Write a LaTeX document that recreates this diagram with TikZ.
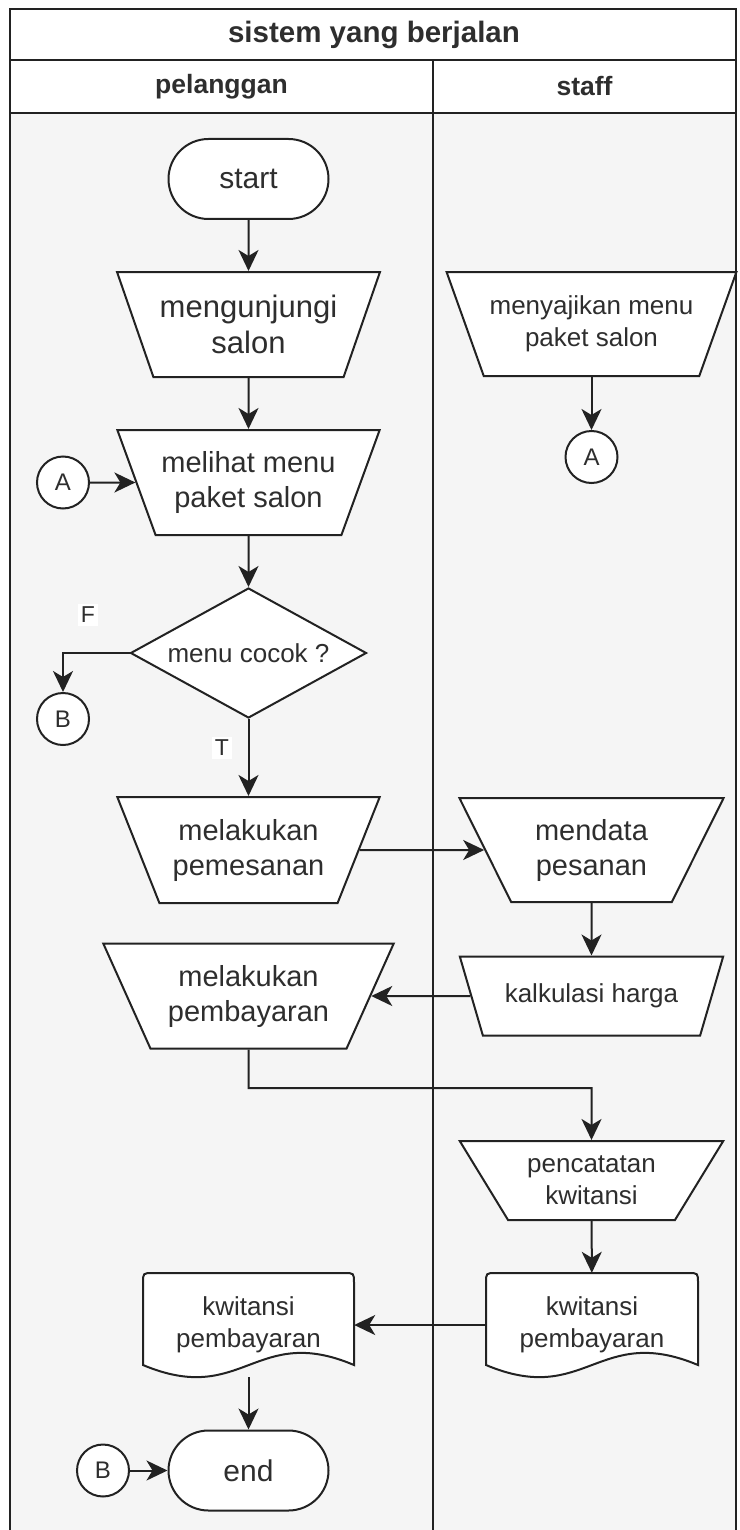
\documentclass[tikz,border=0pt]{standalone}
\usepackage{fontspec}
\setmainfont{Liberation Sans}
\usetikzlibrary{shapes.geometric,arrows.meta,calc}
\definecolor{lanebg}{HTML}{F5F5F5}
\definecolor{ink}{HTML}{222222}
\definecolor{txt}{HTML}{2E2E2E}
\begin{document}
\begin{tikzpicture}[x=1pt,y=-1pt,
  every node/.style={text=txt, inner sep=0pt},
  frame/.style={draw=ink, line width=2pt},
  shp/.style={draw=ink, fill=white, line width=2pt, align=center},
  manop/.style={shp, trapezium, trapezium stretches=true,
    trapezium left angle=#1, trapezium right angle=#1},
  term/.style={shp, rectangle, rounded corners=40pt, minimum width=160pt,
    minimum height=80pt, font=\fontsize{30}{36}\selectfont},
  conn/.style={shp, circle, minimum size=52pt, font=\fontsize{24}{28}\selectfont},
  decis/.style={shp, diamond, aspect=1.815, minimum width=236pt, minimum height=130pt},
  docn/.style={align=center, minimum width=212pt, minimum height=104pt},
  docline/.style={draw=ink, fill=white, line width=2pt},
  bigtext/.style={font=\fontsize{29}{35}\selectfont},
  midtext/.style={font=\fontsize{26}{32}\selectfont},
  lbl/.style={fill=white, inner sep=3pt, font=\fontsize{23}{27}\selectfont},
  hdr/.style={font=\bfseries\fontsize{26.5}{30}\selectfont},
  arr/.style={draw=ink, line width=2pt, -{Stealth[length=21pt,width=20pt,inset=6pt]}}
]
\useasboundingbox (0,0) rectangle (739,1530);
\fill[white] (0,0) rectangle (739,1530);
% lanes
\fill[lanebg] (10,113) rectangle (433,1530);
\fill[lanebg] (433,113) rectangle (736,1530);
\draw[frame] (10,1530) -- (10,9) -- (736,9) -- (736,1530);
\draw[frame] (10,60) -- (736,60);
\draw[frame] (10,113) -- (736,113);
\draw[frame] (433,60) -- (433,1530);
\node[font=\bfseries\fontsize{29.5}{34}\selectfont] (title) at (374,34.5) {sistem yang berjalan};
\node[hdr] (hp) at (221.5,86.5) {pelanggan};
\node[hdr] (hs) at (584.5,86.5) {staff};

% document outlines
\filldraw[docline] (486,1365) -- (486,1283) .. controls (486,1273) .. (496,1273)
  -- (688,1273) .. controls (698,1273) .. (698,1283) -- (698,1365)
  .. controls (598,1323) and (586,1407) .. (486,1365) -- cycle;
\filldraw[docline] (143,1365) -- (143,1283) .. controls (143,1273) .. (153,1273)
  -- (344,1273) .. controls (354,1273) .. (354,1283) -- (354,1365)
  .. controls (255,1323) and (243,1407) .. (143,1365) -- cycle;

% nodes
\node[term] (start) at (248.5,179) {start};
\node[manop=120, minimum width=263pt, minimum height=105pt, font=\fontsize{31}{36}\selectfont] (meng) at (248.5,324.5) {mengunjungi\\salon};
\node[manop=120, minimum width=263pt, minimum height=105pt, bigtext] (lihat) at (248.5,482.5) {melihat menu\\paket salon};
\node[conn] (A1) at (63,482.5) {A};
\node[decis, midtext] (dec) at (248.5,653) {menu cocok ?};
\node[conn] (B1) at (63,719) {B};
\node[lbl] (F) at (88,615) {F};
\node[lbl] (T) at (222,748) {T};
\node[manop=120, minimum width=263pt, minimum height=106pt, bigtext] (pesan) at (248.5,850) {melakukan\\pemesanan};
\node[manop=122, minimum width=291pt, minimum height=105pt, bigtext] (bayar) at (248.5,996) {melakukan\\pembayaran};
\node[manop=122, minimum width=290pt, minimum height=104pt, midtext] (saji) at (591.5,324) {menyajikan menu\\paket salon};
\node[conn] (A2) at (591.5,457) {A};
\node[manop=120.4, minimum width=265pt, minimum height=104pt, bigtext] (data) at (591.5,850) {mendata\\pesanan};
\node[manop=127.2, minimum width=264pt, minimum height=79pt, midtext] (kalk) at (591.5,996) {kalkulasi harga};
\node[manop=127.2, minimum width=264pt, minimum height=79pt, midtext] (catat) at (591.5,1180.5) {pencatatan\\kwitansi};
\node[docn, midtext] (kr) at (592,1325) {kwitansi\\pembayaran};
\node[docn, minimum width=211pt, midtext] (kl) at (248.5,1325) {kwitansi\\pembayaran};
\node[term] (end) at (248.5,1470.5) {end};
\node[conn] (B2) at (103,1470.5) {B};
\coordinate (bend) at (248.5,1088);

% connectors
\draw[arr] (start) -- (meng);
\draw[arr] (meng) -- (lihat);
\draw[arr] (A1) -- (lihat);
\draw[arr] (lihat) -- (dec);
\draw[arr] (dec.west) -| (B1.north);
\draw[arr] (dec) -- (pesan);
\draw[arr] (pesan) -- (data);
\draw[arr] (saji) -- (A2);
\draw[arr] (data) -- (kalk);
\draw[arr] (kalk) -- (bayar);
\draw[arr] (bayar.south) -- (bend) -| (catat.north);
\draw[arr] (catat) -- (kr);
\draw[arr] (kr) -- (kl);
\draw[arr] (kl) -- (end);
\draw[arr] (B2) -- (end);
\end{tikzpicture}
\end{document}
